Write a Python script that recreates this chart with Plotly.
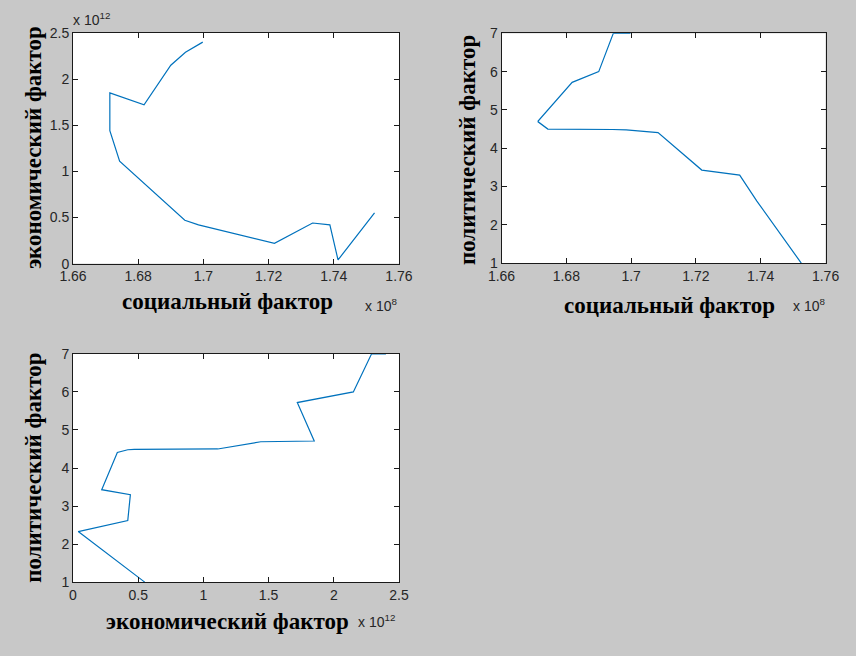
import plotly.graph_objects as go

# Trajectory of the three factors (same time steps in every panel)
social = [1.7525e8, 1.7413e8, 1.7388e8, 1.7335e8, 1.7218e8, 1.7083e8, 1.6985e8,
          1.6943e8, 1.6743e8, 1.6713e8, 1.6713e8, 1.6818e8, 1.6900e8, 1.6945e8, 1.6998e8]
economic = [0.55e12, 0.04e12, 0.42e12, 0.44e12, 0.22e12, 0.34e12, 0.42e12,
            0.47e12, 1.11e12, 1.44e12, 1.85e12, 1.72e12, 2.15e12, 2.29e12, 2.40e12]
political = [1.0, 2.33, 2.62, 3.3, 3.43, 4.41, 4.48,
             4.49, 4.5, 4.69, 4.71, 5.72, 6.0, 7.0, 7.0]

# Tick labels (in units of the axis multiplier)
social_ticks = ["1.66", "1.68", "1.7", "1.72", "1.74", "1.76"]
economic_ticks = ["0", "0.5", "1", "1.5", "2", "2.5"]
political_ticks = ["1", "2", "3", "4", "5", "6", "7"]

SOCIAL_EXP = 8
ECONOMIC_EXP = 12

# The page keeps its default 8px body margin on the top/left; the figure
# runs out to the right and bottom edges of the window
PAGE_W, PAGE_H, PAD = 864, 664, 8
W, H = PAGE_W - PAD, PAGE_H - PAD
BG = "#c8c8c8"
LINE = "#0072bd"
TICKFONT = dict(family="Liberation Sans, Arial", size=14, color="#262626")
TITLEFONT = dict(family="Liberation Serif, Times New Roman", size=23, color="#000000")
EXPFONT = dict(family="Liberation Sans, Arial", size=14, color="#262626")


def px_x(x):
    """Page pixel column -> paper fraction."""
    return (x - PAD) / W


def px_y(y):
    """Page pixel row (from top) -> paper fraction."""
    return 1 - (y - PAD) / H


fig = go.Figure()

panels = [
    # (x data, y data, xticks, xexp, yticks, yexp, x-extent px, y-extent px)
    (social, economic, social_ticks, SOCIAL_EXP, economic_ticks, ECONOMIC_EXP,
     (69, 406), (33.5, 270)),
    (social, political, social_ticks, SOCIAL_EXP, political_ticks, 0,
     (512, 847), (34, 269.5)),
    (economic, political, economic_ticks, ECONOMIC_EXP, political_ticks, 0,
     (69, 406), (362.5, 596.5)),
]

layout_axes = {}
for i, (xd, yd, xt, xe, yt, ye, (xl, xr), (yt_px, yb_px)) in enumerate(panels, start=1):
    xa = "x" if i == 1 else f"x{i}"
    ya = "y" if i == 1 else f"y{i}"
    fig.add_trace(go.Scatter(x=xd, y=yd, mode="lines", xaxis=xa, yaxis=ya,
                             line=dict(color=LINE, width=1.2), showlegend=False,
                             hoverinfo="skip"))
    xvals = [float(t) * 10 ** xe for t in xt]
    yvals = [float(t) * 10 ** ye for t in yt]
    common = dict(showgrid=False, zeroline=False, showline=True, linecolor="#1a1a1a",
                  linewidth=1, mirror="ticks", ticks="inside", ticklen=5,
                  tickcolor="#1a1a1a", tickwidth=1, tickfont=TICKFONT)
    layout_axes["xaxis" if i == 1 else f"xaxis{i}"] = dict(
        domain=[px_x(xl), px_x(xr)], range=[xvals[0], xvals[-1]],
        tickvals=xvals, ticktext=xt, anchor=ya, **common)
    layout_axes["yaxis" if i == 1 else f"yaxis{i}"] = dict(
        domain=[px_y(yb_px), px_y(yt_px)], range=[yvals[0], yvals[-1]],
        tickvals=yvals, ticktext=yt, anchor=xa, **common)

fig.update_layout(**layout_axes)

annotations = []


def text(x, y, s, font, angle=0, xanchor="center", yanchor="middle"):
    annotations.append(dict(x=px_x(x), y=px_y(y), xref="paper", yref="paper", text=s,
                            showarrow=False, font=font, textangle=angle,
                            xanchor=xanchor, yanchor=yanchor))


# Axis titles
text(229, 309, "<b>социальный фактор</b>", TITLEFONT)
text(28, 151, "<b>экономический фактор</b>", TITLEFONT, angle=-90)
text(686, 313, "<b>социальный фактор</b>", TITLEFONT)
text(477, 154, "<b>политический фактор</b>", TITLEFONT, angle=-90)
text(229, 637, "<b>экономический фактор</b>", TITLEFONT)
text(28, 479, "<b>политический фактор</b>", TITLEFONT, angle=-90)

# Axis multipliers
text(67, 19, f"x 10<sup>{ECONOMIC_EXP}</sup>", EXPFONT, xanchor="left")
text(369, 312, f"x 10<sup>{SOCIAL_EXP}</sup>", EXPFONT, xanchor="left")
text(811, 312, f"x 10<sup>{SOCIAL_EXP}</sup>", EXPFONT, xanchor="left")
text(362, 636, f"x 10<sup>{ECONOMIC_EXP}</sup>", EXPFONT, xanchor="left")

fig.update_layout(
    width=W, height=H, margin=dict(l=0, r=0, t=0, b=0),
    paper_bgcolor=BG, plot_bgcolor="white",
    annotations=annotations,
)

fig.write_html("out.html")
